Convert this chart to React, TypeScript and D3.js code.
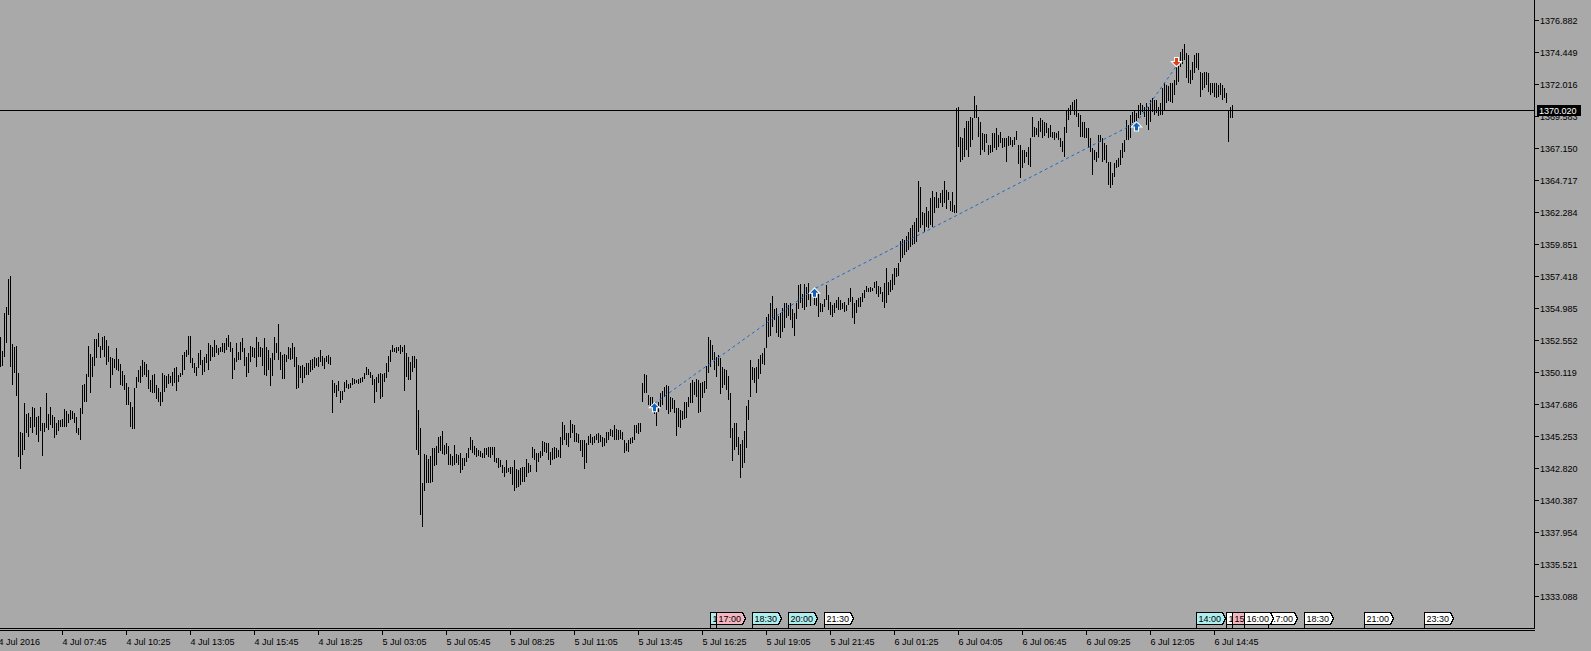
import React from 'react';
import * as d3 from 'd3';

// M5 bars, oldest first (high / low)
const highs = [
  1352.62, 1352.85, 1351.78, 1354.67, 1355.13, 1357.26, 1357.48, 1352.32, 1352.09, 1352.16,
  1350.11, 1345.63, 1345.55, 1347.83, 1347.00, 1347.07, 1346.77, 1347.53, 1347.45, 1346.77,
  1346.84, 1347.53, 1346.31, 1346.31, 1348.59, 1347.00, 1347.53, 1346.92, 1346.77, 1346.31,
  1346.54, 1346.54, 1346.61, 1347.38, 1347.22, 1347.00, 1347.30, 1347.22, 1347.07, 1346.77,
  1345.93, 1347.45, 1349.20, 1349.28, 1350.04, 1352.16, 1351.56, 1351.33, 1352.70, 1352.70,
  1353.15, 1352.16, 1352.85, 1352.92, 1352.62, 1352.16, 1351.33, 1351.25, 1351.18, 1352.01,
  1351.18, 1350.80, 1350.26, 1349.96, 1349.35, 1349.05, 1347.91, 1347.53, 1348.97, 1349.81,
  1350.34, 1350.64, 1351.10, 1350.95, 1350.80, 1350.34, 1349.58, 1349.96, 1350.04, 1349.20,
  1348.97, 1348.67, 1350.11, 1349.96, 1349.88, 1350.04, 1349.88, 1350.19, 1350.49, 1350.57,
  1349.96, 1350.11, 1351.48, 1351.71, 1351.86, 1352.92, 1352.92, 1351.25, 1350.87, 1350.57,
  1351.63, 1351.86, 1351.10, 1351.33, 1351.56, 1352.39, 1352.24, 1352.09, 1352.62, 1352.24,
  1352.01, 1352.09, 1352.39, 1352.39, 1352.77, 1353.00, 1352.47, 1352.01, 1351.25, 1352.39,
  1351.71, 1352.47, 1352.77, 1352.01, 1351.33, 1351.63, 1352.16, 1352.09, 1352.01, 1352.85,
  1352.47, 1352.09, 1352.01, 1352.77, 1352.09, 1351.86, 1351.25, 1351.63, 1352.85, 1352.39,
  1353.84, 1351.71, 1351.48, 1351.56, 1351.48, 1352.09, 1352.01, 1352.39, 1352.09, 1351.33,
  1350.72, 1350.64, 1350.72, 1350.57, 1350.87, 1350.87, 1351.10, 1351.18, 1351.33, 1351.25,
  1351.33, 1351.86, 1351.40, 1351.25, 1351.40, 1351.48, 1351.33, 1349.58, 1349.35, 1349.20,
  1349.50, 1348.74, 1348.74, 1349.43, 1349.58, 1349.28, 1349.35, 1349.73, 1349.66, 1349.58,
  1349.66, 1349.73, 1349.81, 1350.11, 1350.57, 1350.42, 1350.19, 1349.96, 1349.66, 1349.81,
  1350.04, 1350.11, 1350.04, 1350.11, 1350.87, 1351.40, 1351.86, 1352.24, 1352.01, 1352.09,
  1352.09, 1352.24, 1352.09, 1352.24, 1351.63, 1351.33, 1350.95, 1351.40, 1351.40, 1351.18,
  1347.30, 1345.93, 1341.75, 1343.96, 1343.88, 1343.58, 1343.80, 1344.41, 1344.41, 1344.56,
  1345.25, 1345.32, 1345.70, 1344.64, 1344.79, 1344.56, 1343.96, 1343.80, 1344.64, 1343.96,
  1343.88, 1344.03, 1343.65, 1343.65, 1344.03, 1344.41, 1345.25, 1345.02, 1344.56, 1344.41,
  1344.26, 1344.18, 1344.03, 1344.41, 1344.41, 1344.49, 1344.49, 1344.49, 1344.49, 1343.65,
  1343.65, 1343.50, 1343.12, 1342.97, 1343.50, 1342.89, 1342.97, 1342.97, 1343.50, 1342.82,
  1342.74, 1342.89, 1342.97, 1342.97, 1343.58, 1343.27, 1343.12, 1344.49, 1344.34, 1344.03,
  1344.03, 1344.18, 1344.94, 1344.87, 1344.79, 1344.79, 1344.11, 1344.41, 1344.49, 1344.41,
  1344.26, 1345.25, 1346.39, 1346.16, 1345.55, 1345.55, 1346.54, 1346.24, 1346.16, 1345.55,
  1345.48, 1345.02, 1345.02, 1345.02, 1344.79, 1345.32, 1345.48, 1345.25, 1345.32, 1345.48,
  1345.55, 1345.40, 1345.25, 1345.17, 1345.63, 1345.63, 1345.86, 1345.78, 1346.16, 1345.86,
  1345.78, 1345.78, 1345.63, 1345.02, 1344.79, 1345.02, 1345.17, 1345.25, 1346.16, 1346.16,
  1346.31, 1346.31, 1349.35, 1350.04, 1349.96, 1348.44, 1348.29, 1348.29, 1347.83, 1347.30,
  1347.91, 1348.59, 1348.74, 1349.05, 1349.20, 1349.13, 1348.29, 1348.21, 1348.06, 1347.45,
  1347.45, 1347.30, 1347.22, 1347.91, 1347.91, 1348.29, 1349.35, 1349.58, 1349.43, 1349.66,
  1349.58, 1349.35, 1349.43, 1349.50, 1350.64, 1352.85, 1352.62, 1352.24, 1351.71, 1351.33,
  1351.48, 1351.25, 1350.57, 1350.42, 1350.34, 1349.88, 1348.59, 1345.93, 1346.31, 1346.31,
  1345.25, 1344.72, 1345.02, 1345.70, 1347.60, 1348.06, 1351.10, 1350.57, 1350.49, 1350.57,
  1351.18, 1351.48, 1351.63, 1352.01, 1354.37, 1354.60, 1355.43, 1355.96, 1354.98, 1355.05,
  1354.44, 1354.67, 1355.05, 1355.43, 1355.43, 1355.28, 1355.43, 1354.98, 1354.67, 1355.43,
  1356.80, 1356.88, 1356.12, 1356.88, 1356.65, 1356.95, 1356.19, 1356.34, 1356.57, 1356.19,
  1356.19, 1355.43, 1355.36, 1355.74, 1356.80, 1356.04, 1355.51, 1355.28, 1355.43, 1355.66,
  1355.89, 1355.66, 1355.43, 1355.51, 1355.28, 1355.81, 1356.57, 1355.89, 1355.43, 1355.66,
  1355.81, 1355.89, 1356.19, 1356.42, 1356.72, 1356.57, 1356.65, 1356.57, 1357.03, 1357.10,
  1356.72, 1356.65, 1356.27, 1356.95, 1358.09, 1357.03, 1357.18, 1357.64, 1358.09, 1358.09,
  1358.47, 1360.14, 1360.30, 1360.22, 1360.52, 1360.83, 1361.13, 1361.36, 1361.59, 1361.89,
  1364.70, 1364.25, 1362.35, 1362.27, 1362.73, 1362.42, 1363.41, 1363.94, 1363.49, 1363.87,
  1363.41, 1363.79, 1364.02, 1364.70, 1364.02, 1363.87, 1363.18, 1363.87, 1362.88, 1370.25,
  1370.33, 1368.05, 1367.97, 1368.73, 1369.26, 1369.26, 1369.57, 1369.49, 1371.16, 1370.48,
  1369.57, 1369.19, 1368.35, 1368.27, 1368.27, 1367.44, 1367.44, 1368.35, 1368.35, 1368.73,
  1368.20, 1368.43, 1367.97, 1367.97, 1367.97, 1368.12, 1368.05, 1367.82, 1368.05, 1368.50,
  1367.44, 1367.44, 1367.06, 1367.06, 1366.91, 1367.29, 1367.97, 1369.57, 1368.81, 1368.73,
  1369.26, 1369.49, 1369.34, 1369.19, 1369.11, 1368.73, 1368.96, 1368.43, 1368.43, 1368.35,
  1368.50, 1367.97, 1367.74, 1368.81, 1370.10, 1370.25, 1370.48, 1370.71, 1370.86, 1370.94,
  1369.87, 1369.72, 1369.19, 1369.19, 1368.73, 1368.73, 1367.97, 1367.21, 1367.06, 1366.91,
  1368.20, 1368.20, 1367.97, 1367.59, 1367.44, 1366.15, 1366.15, 1365.31, 1366.07, 1366.30,
  1366.45, 1367.06, 1367.59, 1367.82, 1369.34, 1368.96, 1369.72, 1369.95, 1370.10, 1369.87,
  1370.48, 1370.63, 1370.48, 1370.33, 1370.63, 1370.33, 1370.86, 1371.01, 1370.86, 1370.86,
  1370.33, 1370.63, 1371.77, 1372.15, 1372.00, 1371.92, 1372.15, 1372.15, 1372.38, 1373.37,
  1373.44, 1374.51, 1374.74, 1375.12, 1374.43, 1374.28, 1373.14, 1373.75, 1374.28, 1374.43,
  1374.43, 1372.99, 1372.91, 1372.99, 1372.99, 1372.91, 1372.15, 1372.15, 1372.15, 1372.15,
  1372.00, 1372.15, 1372.00, 1371.77, 1371.39, 1370.10, 1370.33, 1370.48,
];

const lows = [
  1350.19, 1350.57, 1350.64, 1351.33, 1352.39, 1354.52, 1350.57, 1349.20, 1350.11, 1348.36,
  1343.73, 1342.82, 1343.88, 1344.26, 1345.55, 1345.25, 1345.93, 1345.55, 1346.01, 1345.40,
  1344.87, 1345.70, 1343.80, 1345.63, 1345.93, 1345.78, 1346.16, 1345.93, 1345.17, 1345.40,
  1345.70, 1346.01, 1346.01, 1346.01, 1346.01, 1346.31, 1346.54, 1346.61, 1346.31, 1345.55,
  1345.40, 1345.02, 1347.00, 1347.91, 1347.91, 1349.81, 1348.59, 1349.81, 1350.64, 1351.25,
  1352.09, 1351.25, 1351.86, 1351.33, 1350.72, 1350.95, 1348.97, 1349.96, 1350.49, 1350.34,
  1350.26, 1349.20, 1349.13, 1348.82, 1347.68, 1347.68, 1346.01, 1345.86, 1345.86, 1348.97,
  1349.43, 1349.35, 1349.81, 1349.96, 1349.81, 1348.90, 1348.67, 1348.59, 1348.59, 1348.14,
  1347.91, 1347.60, 1347.91, 1348.67, 1348.97, 1349.28, 1349.35, 1349.13, 1349.35, 1348.74,
  1349.43, 1349.81, 1349.96, 1350.34, 1351.33, 1351.48, 1350.87, 1350.49, 1350.11, 1349.88,
  1350.49, 1350.72, 1349.96, 1350.19, 1350.87, 1350.34, 1351.02, 1351.33, 1351.33, 1351.63,
  1351.48, 1351.71, 1351.71, 1351.63, 1351.86, 1352.09, 1351.71, 1349.66, 1350.34, 1350.95,
  1351.10, 1351.10, 1351.71, 1350.64, 1349.81, 1350.11, 1350.95, 1351.33, 1351.25, 1350.57,
  1351.33, 1351.33, 1350.64, 1349.96, 1349.88, 1350.34, 1349.13, 1349.88, 1351.10, 1351.63,
  1351.10, 1350.34, 1349.66, 1349.66, 1350.95, 1351.18, 1351.10, 1351.18, 1350.57, 1348.90,
  1348.97, 1349.73, 1349.35, 1349.73, 1349.96, 1349.96, 1350.19, 1350.34, 1350.49, 1350.64,
  1350.57, 1350.95, 1350.64, 1350.42, 1350.95, 1350.80, 1350.72, 1347.07, 1348.59, 1348.29,
  1348.74, 1347.83, 1348.06, 1348.67, 1348.97, 1348.90, 1348.97, 1349.20, 1349.28, 1349.35,
  1349.28, 1349.35, 1349.43, 1349.66, 1349.96, 1349.96, 1349.73, 1349.20, 1347.83, 1348.67,
  1349.35, 1348.14, 1348.29, 1349.43, 1349.73, 1350.19, 1350.95, 1351.71, 1351.71, 1351.63,
  1351.78, 1351.56, 1351.71, 1348.74, 1349.81, 1349.58, 1349.58, 1350.19, 1350.49, 1344.26,
  1343.88, 1339.32, 1338.41, 1341.14, 1341.75, 1341.75, 1341.75, 1341.83, 1343.04, 1343.12,
  1344.03, 1344.18, 1343.96, 1343.88, 1343.96, 1343.12, 1343.12, 1343.04, 1343.12, 1343.27,
  1343.12, 1342.51, 1342.74, 1343.04, 1343.35, 1343.65, 1344.26, 1344.03, 1343.88, 1343.73,
  1343.80, 1343.73, 1343.65, 1343.65, 1343.88, 1343.73, 1343.65, 1343.88, 1343.35, 1343.27,
  1342.89, 1342.97, 1342.51, 1342.21, 1342.51, 1342.59, 1342.44, 1341.60, 1341.14, 1341.37,
  1341.45, 1341.60, 1341.83, 1341.83, 1342.21, 1342.51, 1342.59, 1343.65, 1343.50, 1342.59,
  1343.35, 1343.65, 1343.80, 1344.11, 1344.03, 1343.50, 1343.12, 1343.50, 1343.58, 1343.65,
  1343.73, 1343.65, 1344.64, 1345.02, 1344.64, 1344.49, 1345.17, 1345.55, 1344.87, 1344.87,
  1344.79, 1344.18, 1343.73, 1342.82, 1343.27, 1344.64, 1344.79, 1344.64, 1344.79, 1345.02,
  1344.79, 1344.87, 1344.49, 1344.56, 1344.79, 1345.02, 1345.32, 1345.25, 1345.02, 1345.02,
  1345.02, 1345.10, 1345.02, 1344.03, 1344.18, 1344.11, 1344.72, 1344.79, 1345.02, 1345.55,
  1345.48, 1345.63, 1347.91, 1348.59, 1348.59, 1347.68, 1347.45, 1347.15, 1347.00, 1346.08,
  1347.15, 1347.53, 1347.68, 1348.29, 1347.30, 1347.00, 1347.15, 1347.38, 1347.07, 1345.32,
  1346.01, 1345.93, 1346.54, 1346.61, 1346.69, 1347.53, 1347.83, 1347.83, 1348.44, 1348.29,
  1347.07, 1347.15, 1348.21, 1348.59, 1348.90, 1350.11, 1350.57, 1351.10, 1350.34, 1349.81,
  1350.64, 1348.52, 1348.97, 1349.20, 1348.82, 1348.06, 1345.17, 1343.42, 1344.26, 1344.49,
  1343.88, 1342.13, 1342.89, 1343.27, 1344.41, 1346.54, 1348.29, 1349.58, 1349.35, 1348.59,
  1349.66, 1350.04, 1350.80, 1350.72, 1352.01, 1352.85, 1352.92, 1353.61, 1354.14, 1353.15,
  1352.85, 1352.77, 1353.23, 1353.53, 1354.29, 1354.44, 1354.14, 1353.53, 1352.92, 1354.22,
  1354.98, 1355.43, 1355.05, 1354.90, 1355.13, 1355.66, 1355.20, 1355.81, 1355.28, 1355.20,
  1354.37, 1354.75, 1354.75, 1355.13, 1355.66, 1354.90, 1354.52, 1354.37, 1354.67, 1355.05,
  1354.90, 1354.90, 1354.98, 1354.75, 1354.83, 1355.28, 1355.51, 1354.29, 1353.84, 1354.67,
  1355.13, 1355.13, 1355.51, 1355.81, 1356.27, 1356.27, 1356.27, 1356.34, 1356.57, 1356.12,
  1355.89, 1356.12, 1355.51, 1355.05, 1355.43, 1356.04, 1356.27, 1356.42, 1356.80, 1357.41,
  1357.48, 1358.55, 1358.85, 1359.08, 1359.31, 1359.46, 1359.69, 1359.84, 1359.92, 1360.07,
  1360.83, 1361.13, 1361.36, 1360.83, 1361.21, 1361.13, 1361.36, 1361.21, 1362.27, 1362.65,
  1362.65, 1363.03, 1362.73, 1363.03, 1362.58, 1363.26, 1362.42, 1362.35, 1362.27, 1362.27,
  1367.29, 1366.15, 1366.30, 1366.53, 1367.06, 1366.53, 1367.29, 1367.82, 1369.49, 1369.49,
  1368.05, 1366.68, 1367.06, 1366.91, 1367.59, 1366.68, 1366.83, 1366.91, 1367.21, 1367.06,
  1367.29, 1367.59, 1367.21, 1367.29, 1366.15, 1367.36, 1367.44, 1367.29, 1367.44, 1367.82,
  1366.00, 1364.93, 1365.69, 1366.07, 1366.53, 1365.92, 1365.77, 1368.05, 1368.05, 1368.20,
  1368.05, 1368.43, 1367.97, 1368.12, 1368.35, 1367.97, 1368.05, 1367.97, 1367.82, 1367.97,
  1367.82, 1367.29, 1366.91, 1366.53, 1368.35, 1369.34, 1369.72, 1370.10, 1369.72, 1369.57,
  1368.81, 1368.05, 1368.05, 1367.97, 1367.97, 1367.21, 1366.91, 1365.16, 1366.30, 1366.15,
  1366.45, 1367.67, 1366.15, 1366.30, 1366.07, 1364.40, 1364.17, 1364.40, 1365.01, 1365.69,
  1365.77, 1365.92, 1366.45, 1366.91, 1367.82, 1367.82, 1367.97, 1369.11, 1369.19, 1368.81,
  1369.49, 1369.72, 1369.95, 1369.57, 1368.96, 1368.58, 1369.19, 1369.95, 1369.72, 1369.87,
  1369.64, 1369.72, 1369.72, 1370.10, 1370.63, 1370.78, 1370.71, 1370.63, 1371.24, 1372.00,
  1372.23, 1373.37, 1373.60, 1373.90, 1372.53, 1372.15, 1372.08, 1372.38, 1372.91, 1373.29,
  1373.14, 1371.09, 1371.62, 1371.77, 1372.00, 1371.47, 1371.24, 1371.39, 1371.09, 1371.01,
  1371.09, 1371.24, 1370.86, 1371.01, 1370.63, 1367.67, 1369.49, 1369.49,
];

// one time label every 32 bars
const timeLabels = [
  '4 Jul 2016', '4 Jul 07:45', '4 Jul 10:25', '4 Jul 13:05', '4 Jul 15:45', '4 Jul 18:25',
  '5 Jul 03:05', '5 Jul 05:45', '5 Jul 08:25', '5 Jul 11:05', '5 Jul 13:45', '5 Jul 16:25',
  '5 Jul 19:05', '5 Jul 21:45', '6 Jul 01:25', '6 Jul 04:05', '6 Jul 06:45', '6 Jul 09:25',
  '6 Jul 12:05', '6 Jul 14:45',
];

const priceTicks = [
  1376.882, 1374.449, 1372.016, 1369.583, 1367.150, 1364.717, 1362.284, 1359.851, 1357.418,
  1354.985, 1352.552, 1350.119, 1347.686, 1345.253, 1342.820, 1340.387, 1337.954, 1335.521, 1333.088,
];

const bidPrice = 1370.02;

// trade history arrows
const tradeBars = [328, 408, 569, 589];
const tradePrices = [1347.79, 1356.5, 1369.14, 1373.44];
const tradeTypes = ['buy', 'buy', 'buy', 'sell'];

// calendar events on the time scale (drawn in this order)
const eventBars = [356, 359, 377, 395, 413, 599, 614, 617, 635, 623, 653, 683, 713];
const eventLabels = ['16:45', '17:00', '18:30', '20:00', '21:30', '14:00', '15:15', '15:30', '17:00', '16:00', '18:30', '21:00', '23:30'];
const eventLevels = ['mid', 'high', 'mid', 'mid', 'low', 'mid', 'low', 'high', 'low', 'low', 'low', 'low', 'low'];

const levelColor: Record<string, string> = { high: '#F4B6C0', mid: '#AFEEEE', low: '#FFFFFF' };

const App: React.FC = () => {
  const width = 1591;
  const height = 651;
  const plotRight = 1534;
  const plotBottom = 628;
  const font = '"Liberation Sans", Arial, sans-serif';
  const boxW = 26;

  // bar i sits on pixel column 2i - 2
  const x = d3.scaleLinear().domain([0, 1]).range([-2, 0]);
  const y = d3.scaleLinear().domain([1333.088, 1376.882]).range([596.7, 20.7]);
  const col = (i: number) => x(i) + 0.5;

  const barPath = highs
    .map((h, i) => {
      const y1 = y(h);
      const y2 = Math.max(y(lows[i]), y1 + 1);
      return `M${col(i)},${y1.toFixed(1)}V${y2.toFixed(1)}`;
    })
    .join('');

  const tradeLine = d3.line<number>()
    .x((_, i) => col(tradeBars[i]))
    .y((p) => y(p))(tradePrices) || '';

  const bidY = Math.floor(y(bidPrice)) + 0.5;

  // visible part of each event tag once later tags are drawn over it
  const eventClip = eventBars.map((b, i) => {
    const ex = col(b);
    let lo = ex;
    let hi = ex + boxW + 3;
    for (let j = i + 1; j < eventBars.length; j++) {
      const ox = col(eventBars[j]);
      if (ox + boxW + 3 <= lo || ox >= hi) continue;
      if (ox > lo) hi = Math.min(hi, ox);
      else lo = Math.max(lo, ox + boxW + 3);
    }
    return [lo, hi];
  });

  return (
    <svg
      width={width}
      height={height}
      style={{ position: 'absolute', left: 0, top: 0, display: 'block', background: '#A9A9A9' }}
      fontFamily={font}
    >
      <rect width={width} height={height} fill="#A9A9A9" />
      <defs>
        <clipPath id="plot">
          <rect x={0} y={0} width={plotRight} height={plotBottom} />
        </clipPath>
        {eventClip.map(([lo, hi], i) => (
          <clipPath id={`ev-${i}`} key={i}>
            <rect x={lo + 0.5} y={600} width={Math.max(0, hi - lo - 1)} height={30} />
          </clipPath>
        ))}
      </defs>

      <g clipPath="url(#plot)">
        <path d={barPath} stroke="#000" strokeWidth={1} fill="none" shapeRendering="crispEdges" />
        <line x1={0} x2={plotRight} y1={bidY} y2={bidY} stroke="#000" shapeRendering="crispEdges" />
        <path d={tradeLine} stroke="#1C6BC4" strokeWidth={1} strokeDasharray="3,3" fill="none" />
        {tradeBars.map((b, i) => {
          const cx = col(b);
          const ty = y(tradePrices[i]);
          const s = tradeTypes[i] === 'buy' ? 1 : -1;
          const pts = [[0, 0], [4, 4], [1.5, 4], [1.5, 8], [-1.5, 8], [-1.5, 4], [-4, 4]]
            .map(([dx, dy]) => `${cx + dx},${ty + s * dy}`)
            .join(' ');
          return (
            <polygon
              key={i}
              points={pts}
              fill={tradeTypes[i] === 'buy' ? '#0F62B8' : '#E0401A'}
              stroke="#fff"
              strokeWidth={2}
              strokeLinejoin="miter"
              paintOrder="stroke"
            />
          );
        })}
      </g>

      {/* price scale */}
      <line x1={plotRight + 0.5} x2={plotRight + 0.5} y1={0} y2={plotBottom} stroke="#000" shapeRendering="crispEdges" />
      {priceTicks.map((v) => {
        const ty = Math.floor(y(v)) + 0.5;
        return (
          <g key={v}>
            <line x1={plotRight} x2={plotRight + 5} y1={ty} y2={ty} stroke="#000" shapeRendering="crispEdges" />
            <text x={plotRight + 6} y={ty} dy="0.35em" fontSize={9} fill="#000">
              {v.toFixed(3)}
            </text>
          </g>
        );
      })}
      <rect x={1537} y={bidY - 5.5} width={44} height={11} fill="#000" />
      <text x={1539} y={bidY} dy="0.35em" fontSize={9} fill="#fff">
        {bidPrice.toFixed(3)}
      </text>

      {/* time scale */}
      <line x1={0} x2={plotRight + 1} y1={plotBottom + 0.5} y2={plotBottom + 0.5} stroke="#000" shapeRendering="crispEdges" />
      <line x1={0} x2={plotRight + 1} y1={plotBottom + 2.5} y2={plotBottom + 2.5} stroke="#000" shapeRendering="crispEdges" />
      {timeLabels.map((t, k) => {
        const tx = col(k * 32);
        return (
          <g key={t}>
            <line x1={tx} x2={tx} y1={plotBottom + 3} y2={plotBottom + 7} stroke="#000" shapeRendering="crispEdges" />
            <text x={tx} y={plotBottom + 17} fontSize={9} fill="#000">
              {t}
            </text>
          </g>
        );
      })}

      {/* events */}
      {eventBars.map((b, i) => {
        const ex = col(b);
        const top = 612.5;
        const bot = 624.5;
        const d = `M${ex},${top}H${ex + boxW}L${ex + boxW + 3},${(top + bot) / 2}L${ex + boxW},${bot}H${ex}Z`;
        return (
          <g key={i}>
            <line x1={ex} x2={ex} y1={bot} y2={plotBottom} stroke="#000" shapeRendering="crispEdges" />
            <path d={d} fill={levelColor[eventLevels[i]]} stroke="#000" strokeWidth={1} shapeRendering="crispEdges" />
            <text x={ex + 2} y={bot - 2.5} fontSize={9} fill="#000" clipPath={`url(#ev-${i})`}>
              {eventLabels[i]}
            </text>
          </g>
        );
      })}
    </svg>
  );
};

export default App;
